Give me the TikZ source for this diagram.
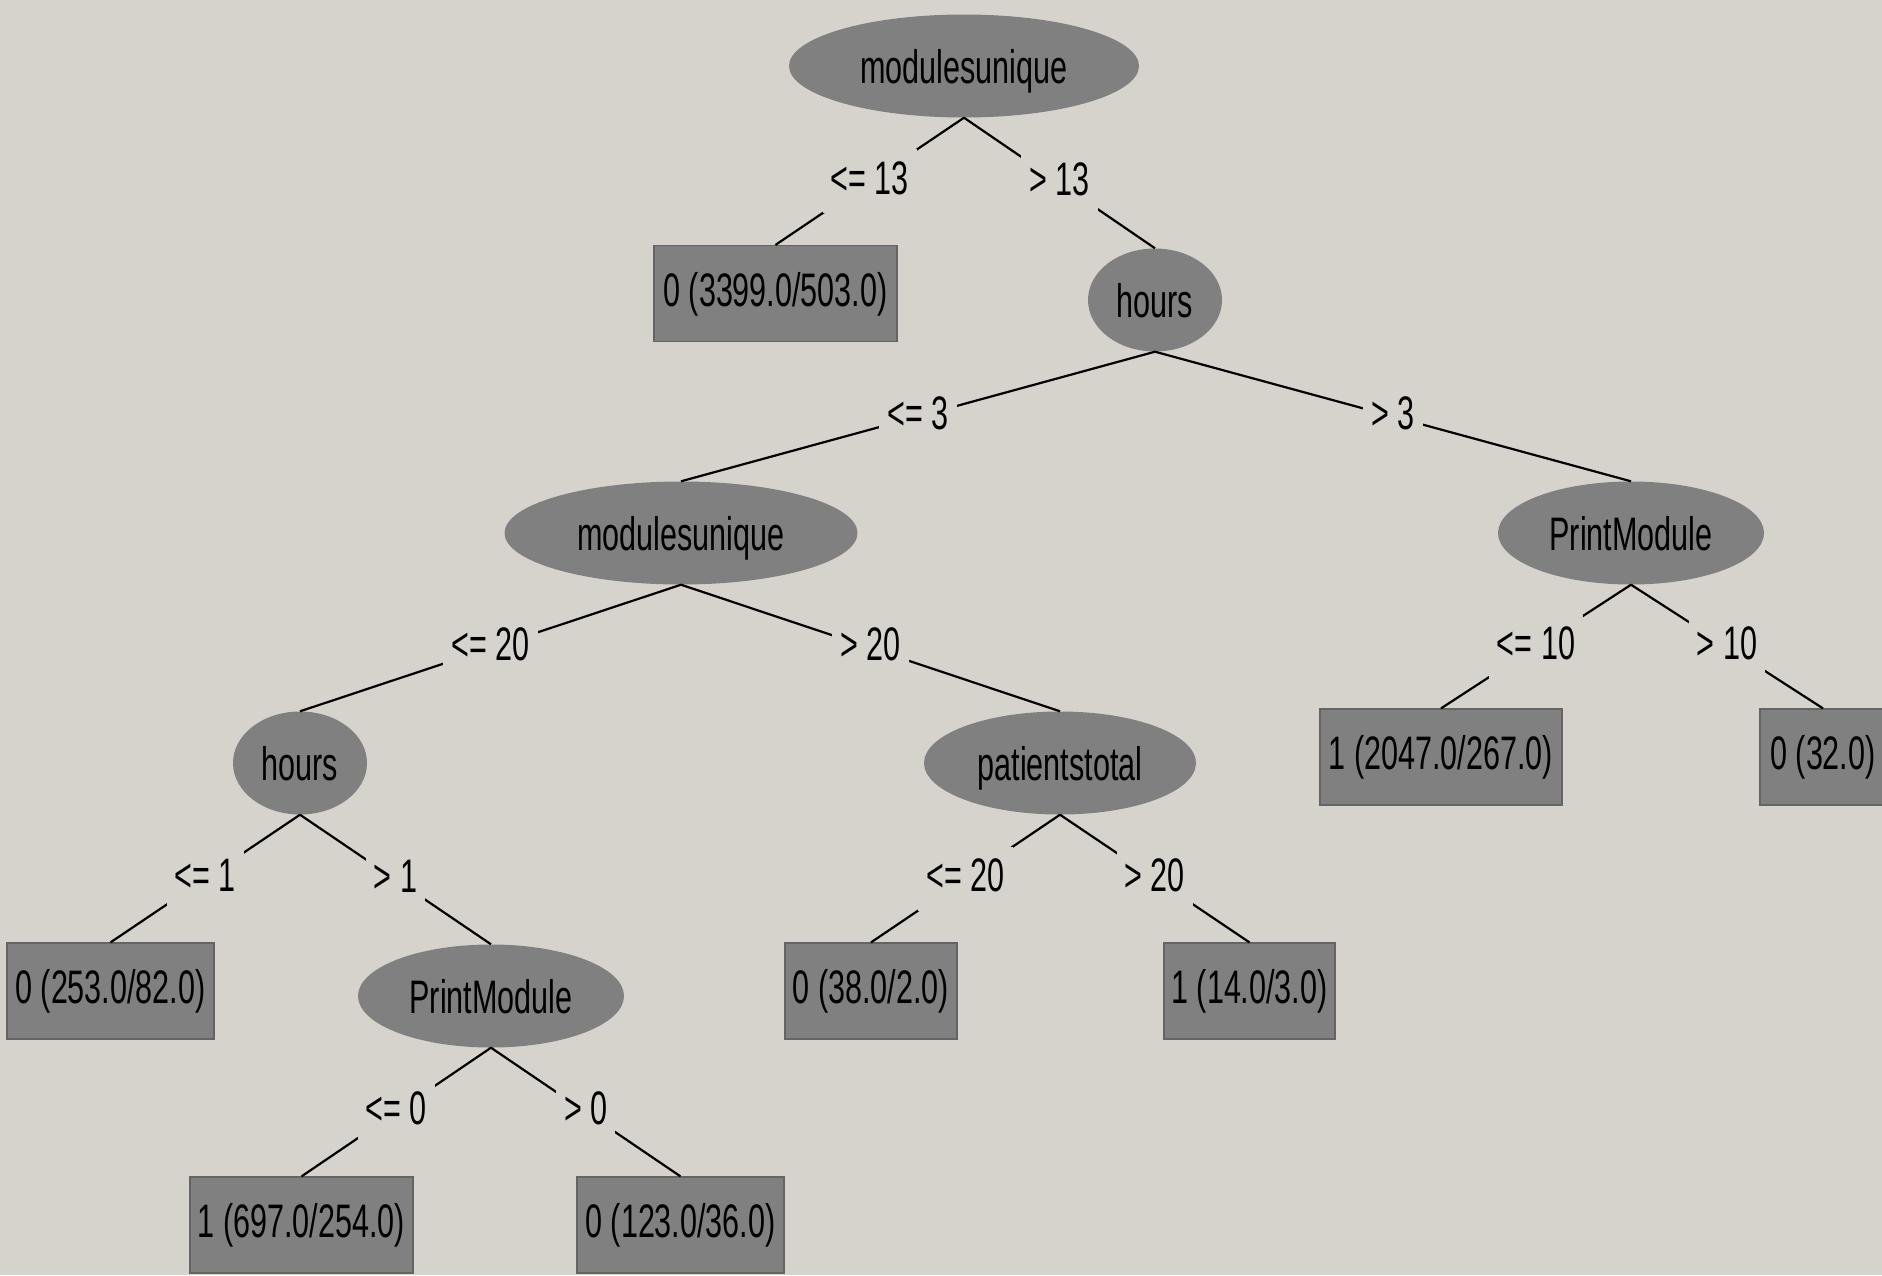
\documentclass[tikz,border=0pt]{standalone}
\usepackage{fontspec}
\usetikzlibrary{shapes.geometric}
\newfontfamily\treefont[FakeStretch=0.65]{Liberation Sans}
\definecolor{panel}{RGB}{214,211,205}
\definecolor{nodegray}{RGB}{128,128,128}
\definecolor{rimgray}{RGB}{100,100,100}
\tikzset{
  every node/.style={font=\treefont\fontsize{47}{54}\selectfont, text=black, text depth=0pt},
  attr/.style={ellipse, fill=nodegray, minimum width=#1, minimum height=103pt, inner sep=0pt},
  leaf/.style={rectangle, fill=nodegray, draw=rimgray, line width=1.2pt, minimum width=#1, minimum height=96pt, inner sep=0pt, text depth=9pt},
  edge/.style={draw=black, line width=2.2pt},
  branch/.style={midway, fill=panel, inner xsep=8pt, inner ysep=0pt, minimum height=64pt, text depth=7pt},
}
\begin{document}
\begin{tikzpicture}[x=1pt, y=-1pt]
  % canvas
  \fill[panel] (0,0) rectangle (1882,1275);
  \useasboundingbox (0,0) rectangle (1882,1275);

  % decision nodes
  \node[attr=350pt] (root)  at (964,66)   {modulesunique};
  \node[attr=134pt] (hrsA)  at (1155,300) {hours};
  \node[attr=353pt] (modB)  at (681,533)  {modulesunique};
  \node[attr=266pt] (prnR)  at (1631,533) {PrintModule};
  \node[attr=134pt] (hrsB)  at (300,763)  {hours};
  \node[attr=272pt] (pat)   at (1060,763) {patientstotal};
  \node[attr=266pt] (prnL)  at (491,996)  {PrintModule};

  % leaves
  \node[leaf=243pt] (lfA) at (775.5,293.5) {0 (3399.0/503.0)};
  \node[leaf=242pt] (lfB) at (1441,757)    {1 (2047.0/267.0)};
  \node[leaf=126pt] (lfC) at (1823,757)    {0 (32.0)};
  \node[leaf=207pt] (lfD) at (110.5,991)   {0 (253.0/82.0)};
  \node[leaf=172pt] (lfE) at (871,991)     {0 (38.0/2.0)};
  \node[leaf=171pt] (lfF) at (1249.5,991)  {1 (14.0/3.0)};
  \node[leaf=223pt] (lfG) at (301.5,1225)  {1 (697.0/254.0)};
  \node[leaf=207pt] (lfH) at (680.5,1225)  {0 (123.0/36.0)};

  % branches
  \draw[edge] (root.south) -- node[branch]{<= 13} (lfA.north);
  \draw[edge] (root.south) -- node[branch]{> 13}  (hrsA.north);
  \draw[edge] (hrsA.south) -- node[branch]{<= 3}  (modB.north);
  \draw[edge] (hrsA.south) -- node[branch]{> 3}   (prnR.north);
  \draw[edge] (modB.south) -- node[branch]{<= 20} (hrsB.north);
  \draw[edge] (modB.south) -- node[branch]{> 20}  (pat.north);
  \draw[edge] (prnR.south) -- node[branch]{<= 10} (lfB.north);
  \draw[edge] (prnR.south) -- node[branch]{> 10}  (lfC.north);
  \draw[edge] (hrsB.south) -- node[branch]{<= 1}  (lfD.north);
  \draw[edge] (hrsB.south) -- node[branch]{> 1}   (prnL.north);
  \draw[edge] (pat.south)  -- node[branch]{<= 20} (lfE.north);
  \draw[edge] (pat.south)  -- node[branch]{> 20}  (lfF.north);
  \draw[edge] (prnL.south) -- node[branch]{<= 0}  (lfG.north);
  \draw[edge] (prnL.south) -- node[branch]{> 0}   (lfH.north);
\end{tikzpicture}
\end{document}
